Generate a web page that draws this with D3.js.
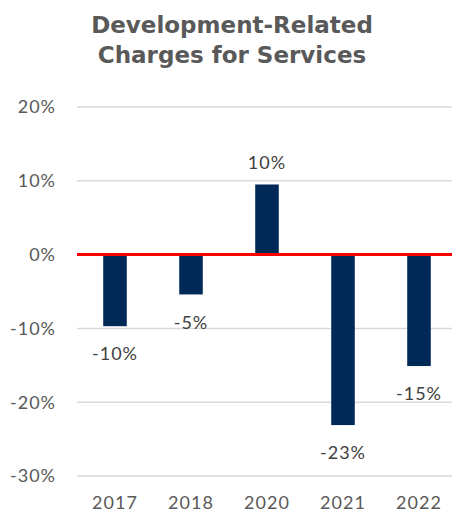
<!DOCTYPE html>
<html>
<head>
<meta charset="utf-8">
<script src="https://cdn.jsdelivr.net/npm/d3@7"></script>
<style>
  body { margin: 0; background: #fff; }
  svg text { font-family: "Century Gothic", "Lato", "DejaVu Sans", sans-serif; }
  svg text.title { font-family: "Century Gothic", "DejaVu Sans", sans-serif; }
</style>
</head>
<body>
<div id="chart"></div>
<script>
// data
const years = ['2017', '2018', '2020', '2021', '2022'];
const changes = [-9.7, -5.4, 9.5, -23.1, -15.1];
const labels = ['-10%', '-5%', '10%', '-23%', '-15%'];
const yTicks = [-30, -20, -10, 0, 10, 20];
const titleLines = ['Development-Related', 'Charges for Services'];

const width = 452, height = 513;

const svg = d3.select('#chart')
    .append('svg')
    .attr('width', width)
    .attr('height', height);

const x = d3.scaleBand()
    .domain(years)
    .range([77, 457])
    .paddingInner(0.69)
    .paddingOuter(0.345);

const y = d3.scaleLinear()
    .domain([-30, 20])
    .range([476, 107]);

// title
svg.append('g')
    .selectAll('text')
    .data(titleLines)
    .join('text')
    .attr('class', 'title')
    .attr('x', 232)
    .attr('y', (d, i) => 33 + i * 30)
    .attr('text-anchor', 'middle')
    .attr('fill', '#595959')
    .attr('font-size', '23px')
    .attr('font-weight', 'bold')
    .text(d => d);

// gridlines
svg.append('g')
    .selectAll('line')
    .data(yTicks.filter(d => d !== 0))
    .join('line')
    .attr('x1', 77)
    .attr('x2', 452)
    .attr('y1', d => y(d))
    .attr('y2', d => y(d))
    .attr('stroke', '#d9d9d9')
    .attr('stroke-width', 1.5);

// y axis labels
svg.append('g')
    .selectAll('text')
    .data(yTicks)
    .join('text')
    .attr('x', 56)
    .attr('y', d => y(d))
    .attr('dy', '0.35em')
    .attr('text-anchor', 'end')
    .attr('fill', '#595959')
    .attr('font-size', '18px')
    .attr('letter-spacing', '1px')
    .text(d => d + '%');

// bars
svg.append('g')
    .selectAll('rect')
    .data(changes)
    .join('rect')
    .attr('x', (d, i) => x(years[i]))
    .attr('width', x.bandwidth())
    .attr('y', d => y(Math.max(0, d)))
    .attr('height', d => Math.abs(y(d) - y(0)))
    .attr('fill', '#002957');

// zero line
svg.append('line')
    .attr('x1', 77)
    .attr('x2', 452)
    .attr('y1', y(0))
    .attr('y2', y(0))
    .attr('stroke', '#ff0000')
    .attr('stroke-width', 3);

// value labels
svg.append('g')
    .selectAll('text')
    .data(changes)
    .join('text')
    .attr('x', (d, i) => x(years[i]) + x.bandwidth() / 2)
    .attr('y', d => d >= 0 ? y(d) - 22 : y(d) + 28)
    .attr('dy', '0.35em')
    .attr('text-anchor', 'middle')
    .attr('fill', '#404040')
    .attr('font-size', '18px')
    .attr('letter-spacing', '1px')
    .text((d, i) => labels[i]);

// x axis labels
svg.append('g')
    .selectAll('text')
    .data(years)
    .join('text')
    .attr('x', d => x(d) + x.bandwidth() / 2)
    .attr('y', 503)
    .attr('dy', '0.35em')
    .attr('text-anchor', 'middle')
    .attr('fill', '#595959')
    .attr('font-size', '18px')
    .attr('letter-spacing', '1px')
    .text(d => d);
</script>
</body>
</html>
